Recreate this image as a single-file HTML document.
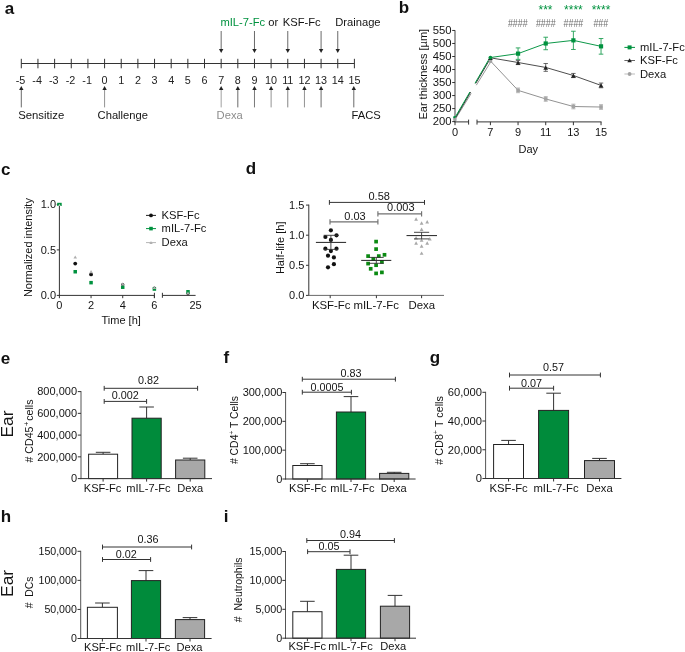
<!DOCTYPE html>
<html><head><meta charset="utf-8"><title>Figure</title>
<style>
html,body{margin:0;padding:0;background:#fff;}
body{width:685px;height:652px;overflow:hidden;font-family:'Liberation Sans', sans-serif;}
svg{display:block;font-family:"Liberation Sans",sans-serif;will-change:transform;}
</style></head>
<body>
<svg width="685" height="652" viewBox="0 0 685 652">
<rect x="0" y="0" width="685" height="652" fill="#ffffff"/>
<text x="4.8" y="13.7" font-size="17" text-anchor="start" fill="#111" font-weight="bold">a</text>
<text x="398.8" y="12.7" font-size="17" text-anchor="start" fill="#111" font-weight="bold">b</text>
<text x="0.9" y="174.5" font-size="17" text-anchor="start" fill="#111" font-weight="bold">c</text>
<text x="245.8" y="174.4" font-size="17" text-anchor="start" fill="#111" font-weight="bold">d</text>
<text x="0.8" y="363.6" font-size="17" text-anchor="start" fill="#111" font-weight="bold">e</text>
<text x="223.5" y="363.2" font-size="17" text-anchor="start" fill="#111" font-weight="bold">f</text>
<text x="429.8" y="363.4" font-size="17" text-anchor="start" fill="#111" font-weight="bold">g</text>
<text x="0.8" y="522" font-size="17" text-anchor="start" fill="#111" font-weight="bold">h</text>
<text x="223.8" y="521.8" font-size="17" text-anchor="start" fill="#111" font-weight="bold">i</text>
<line x1="21.3" y1="63.5" x2="354.40000000000003" y2="63.5" stroke="#333" stroke-width="1"/>
<line x1="21.3" y1="58.8" x2="21.3" y2="68.3" stroke="#333" stroke-width="1"/>
<text x="20.5" y="83.8" font-size="10.8" text-anchor="middle" fill="#222" font-weight="normal">-5</text>
<line x1="37.95" y1="58.8" x2="37.95" y2="68.3" stroke="#333" stroke-width="1"/>
<text x="37.15" y="83.8" font-size="10.8" text-anchor="middle" fill="#222" font-weight="normal">-4</text>
<line x1="54.61" y1="58.8" x2="54.61" y2="68.3" stroke="#333" stroke-width="1"/>
<text x="53.81" y="83.8" font-size="10.8" text-anchor="middle" fill="#222" font-weight="normal">-3</text>
<line x1="71.27" y1="58.8" x2="71.27" y2="68.3" stroke="#333" stroke-width="1"/>
<text x="70.47" y="83.8" font-size="10.8" text-anchor="middle" fill="#222" font-weight="normal">-2</text>
<line x1="87.92" y1="58.8" x2="87.92" y2="68.3" stroke="#333" stroke-width="1"/>
<text x="87.12" y="83.8" font-size="10.8" text-anchor="middle" fill="#222" font-weight="normal">-1</text>
<line x1="104.58" y1="58.8" x2="104.58" y2="68.3" stroke="#333" stroke-width="1"/>
<text x="104.58" y="83.8" font-size="10.8" text-anchor="middle" fill="#222" font-weight="normal">0</text>
<line x1="121.23" y1="58.8" x2="121.23" y2="68.3" stroke="#333" stroke-width="1"/>
<text x="121.23" y="83.8" font-size="10.8" text-anchor="middle" fill="#222" font-weight="normal">1</text>
<line x1="137.89" y1="58.8" x2="137.89" y2="68.3" stroke="#333" stroke-width="1"/>
<text x="137.89" y="83.8" font-size="10.8" text-anchor="middle" fill="#222" font-weight="normal">2</text>
<line x1="154.54" y1="58.8" x2="154.54" y2="68.3" stroke="#333" stroke-width="1"/>
<text x="154.54" y="83.8" font-size="10.8" text-anchor="middle" fill="#222" font-weight="normal">3</text>
<line x1="171.2" y1="58.8" x2="171.2" y2="68.3" stroke="#333" stroke-width="1"/>
<text x="171.2" y="83.8" font-size="10.8" text-anchor="middle" fill="#222" font-weight="normal">4</text>
<line x1="187.85" y1="58.8" x2="187.85" y2="68.3" stroke="#333" stroke-width="1"/>
<text x="187.85" y="83.8" font-size="10.8" text-anchor="middle" fill="#222" font-weight="normal">5</text>
<line x1="204.51" y1="58.8" x2="204.51" y2="68.3" stroke="#333" stroke-width="1"/>
<text x="204.51" y="83.8" font-size="10.8" text-anchor="middle" fill="#222" font-weight="normal">6</text>
<line x1="221.16" y1="58.8" x2="221.16" y2="68.3" stroke="#333" stroke-width="1"/>
<text x="221.16" y="83.8" font-size="10.8" text-anchor="middle" fill="#222" font-weight="normal">7</text>
<line x1="237.82" y1="58.8" x2="237.82" y2="68.3" stroke="#333" stroke-width="1"/>
<text x="237.82" y="83.8" font-size="10.8" text-anchor="middle" fill="#222" font-weight="normal">8</text>
<line x1="254.47" y1="58.8" x2="254.47" y2="68.3" stroke="#333" stroke-width="1"/>
<text x="254.47" y="83.8" font-size="10.8" text-anchor="middle" fill="#222" font-weight="normal">9</text>
<line x1="271.12" y1="58.8" x2="271.12" y2="68.3" stroke="#333" stroke-width="1"/>
<text x="271.12" y="83.8" font-size="10.8" text-anchor="middle" fill="#222" font-weight="normal">10</text>
<line x1="287.78" y1="58.8" x2="287.78" y2="68.3" stroke="#333" stroke-width="1"/>
<text x="287.78" y="83.8" font-size="10.8" text-anchor="middle" fill="#222" font-weight="normal">11</text>
<line x1="304.44" y1="58.8" x2="304.44" y2="68.3" stroke="#333" stroke-width="1"/>
<text x="304.44" y="83.8" font-size="10.8" text-anchor="middle" fill="#222" font-weight="normal">12</text>
<line x1="321.09" y1="58.8" x2="321.09" y2="68.3" stroke="#333" stroke-width="1"/>
<text x="321.09" y="83.8" font-size="10.8" text-anchor="middle" fill="#222" font-weight="normal">13</text>
<line x1="337.75" y1="58.8" x2="337.75" y2="68.3" stroke="#333" stroke-width="1"/>
<text x="337.75" y="83.8" font-size="10.8" text-anchor="middle" fill="#222" font-weight="normal">14</text>
<line x1="354.4" y1="58.8" x2="354.4" y2="68.3" stroke="#333" stroke-width="1"/>
<text x="354.4" y="83.8" font-size="10.8" text-anchor="middle" fill="#222" font-weight="normal">15</text>
<line x1="21.3" y1="89.4" x2="21.3" y2="107.4" stroke="#444" stroke-width="0.8"/>
<polygon points="21.3,85.9 19.1,90.0 23.5,90.0" fill="#222"/>
<line x1="104.58" y1="89.4" x2="104.58" y2="107.4" stroke="#777" stroke-width="0.8"/>
<polygon points="104.58,85.9 102.38,90.0 106.78,90.0" fill="#222"/>
<line x1="221.16" y1="89.4" x2="221.16" y2="107.4" stroke="#888" stroke-width="0.8"/>
<polygon points="221.16,85.9 218.96,90.0 223.35999999999999,90.0" fill="#222"/>
<line x1="237.82" y1="89.4" x2="237.82" y2="107.4" stroke="#444" stroke-width="0.8"/>
<polygon points="237.82,85.9 235.62,90.0 240.01999999999998,90.0" fill="#222"/>
<line x1="254.47" y1="89.4" x2="254.47" y2="107.4" stroke="#555" stroke-width="0.8"/>
<polygon points="254.47,85.9 252.27,90.0 256.67,90.0" fill="#222"/>
<line x1="271.12" y1="89.4" x2="271.12" y2="107.4" stroke="#777" stroke-width="0.8"/>
<polygon points="271.12,85.9 268.92,90.0 273.32,90.0" fill="#222"/>
<line x1="287.78" y1="89.4" x2="287.78" y2="107.4" stroke="#666" stroke-width="0.8"/>
<polygon points="287.78,85.9 285.58,90.0 289.97999999999996,90.0" fill="#222"/>
<line x1="304.44" y1="89.4" x2="304.44" y2="107.4" stroke="#777" stroke-width="0.8"/>
<polygon points="304.44,85.9 302.24,90.0 306.64,90.0" fill="#222"/>
<line x1="321.09" y1="89.4" x2="321.09" y2="107.4" stroke="#444" stroke-width="0.8"/>
<polygon points="321.09,85.9 318.89,90.0 323.28999999999996,90.0" fill="#222"/>
<line x1="353.79999999999995" y1="89.4" x2="353.79999999999995" y2="107.4" stroke="#444" stroke-width="0.8"/>
<polygon points="353.79999999999995,85.9 351.59999999999997,90.0 355.99999999999994,90.0" fill="#222"/>
<line x1="221.16" y1="31" x2="221.16" y2="49.6" stroke="#444" stroke-width="0.8"/>
<polygon points="221.16,53.1 218.96,49.0 223.35999999999999,49.0" fill="#222"/>
<line x1="254.47" y1="31" x2="254.47" y2="49.6" stroke="#444" stroke-width="0.8"/>
<polygon points="254.47,53.1 252.27,49.0 256.67,49.0" fill="#222"/>
<line x1="287.78" y1="31" x2="287.78" y2="49.6" stroke="#444" stroke-width="0.8"/>
<polygon points="287.78,53.1 285.58,49.0 289.97999999999996,49.0" fill="#222"/>
<line x1="321.09" y1="31" x2="321.09" y2="49.6" stroke="#444" stroke-width="0.8"/>
<polygon points="321.09,53.1 318.89,49.0 323.28999999999996,49.0" fill="#222"/>
<line x1="337.75" y1="31" x2="337.75" y2="49.6" stroke="#444" stroke-width="0.8"/>
<polygon points="337.75,53.1 335.55,49.0 339.95,49.0" fill="#222"/>
<text x="18.2" y="118.8" font-size="11.35" text-anchor="start" fill="#141414" font-weight="normal">Sensitize</text>
<text x="97.6" y="118.8" font-size="11.2" text-anchor="start" fill="#141414" font-weight="normal">Challenge</text>
<text x="216.6" y="118.6" font-size="11.2" text-anchor="start" fill="#8c8c8c" font-weight="normal">Dexa</text>
<text x="351.5" y="119" font-size="11.2" text-anchor="start" fill="#141414" font-weight="normal">FACS</text>
<text x="220.4" y="26" font-size="11.2" fill="#141414"><tspan fill="#00923f">mIL-7-Fc</tspan> or</text>
<text x="282.8" y="26" font-size="11.2" text-anchor="start" fill="#141414" font-weight="normal">KSF-Fc</text>
<text x="335.2" y="26" font-size="11.2" text-anchor="start" fill="#141414" font-weight="normal">Drainage</text>
<line x1="455" y1="30.2" x2="455" y2="122.3" stroke="#6e6e6e" stroke-width="1.3"/>
<line x1="452.2" y1="121.6" x2="455" y2="121.6" stroke="#333" stroke-width="1"/>
<text x="451.6" y="125.2" font-size="11.3" text-anchor="end" fill="#141414" font-weight="normal">200</text>
<line x1="452.2" y1="108.58" x2="455" y2="108.58" stroke="#333" stroke-width="1"/>
<text x="451.6" y="112.18" font-size="11.3" text-anchor="end" fill="#141414" font-weight="normal">250</text>
<line x1="452.2" y1="95.56" x2="455" y2="95.56" stroke="#333" stroke-width="1"/>
<text x="451.6" y="99.16" font-size="11.3" text-anchor="end" fill="#141414" font-weight="normal">300</text>
<line x1="452.2" y1="82.54" x2="455" y2="82.54" stroke="#333" stroke-width="1"/>
<text x="451.6" y="86.14" font-size="11.3" text-anchor="end" fill="#141414" font-weight="normal">350</text>
<line x1="452.2" y1="69.52" x2="455" y2="69.52" stroke="#333" stroke-width="1"/>
<text x="451.6" y="73.12" font-size="11.3" text-anchor="end" fill="#141414" font-weight="normal">400</text>
<line x1="452.2" y1="56.5" x2="455" y2="56.5" stroke="#333" stroke-width="1"/>
<text x="451.6" y="60.1" font-size="11.3" text-anchor="end" fill="#141414" font-weight="normal">450</text>
<line x1="452.2" y1="43.48" x2="455" y2="43.48" stroke="#333" stroke-width="1"/>
<text x="451.6" y="47.08" font-size="11.3" text-anchor="end" fill="#141414" font-weight="normal">500</text>
<line x1="452.2" y1="30.46" x2="455" y2="30.46" stroke="#333" stroke-width="1"/>
<text x="451.6" y="34.06" font-size="11.3" text-anchor="end" fill="#141414" font-weight="normal">550</text>
<text x="427.2" y="74.2" font-size="11" text-anchor="middle" fill="#141414" font-weight="normal" transform="rotate(-90 427.2 74.2)">Ear thickness [µm]</text>
<line x1="454.5" y1="121.9" x2="468.6" y2="121.9" stroke="#333" stroke-width="1"/>
<line x1="468.6" y1="119.6" x2="468.6" y2="124.6" stroke="#333" stroke-width="1"/>
<line x1="477" y1="121.9" x2="601.5" y2="121.9" stroke="#333" stroke-width="1"/>
<line x1="477" y1="119.6" x2="477" y2="124.6" stroke="#333" stroke-width="1"/>
<line x1="455" y1="121.9" x2="455" y2="125.2" stroke="#333" stroke-width="1"/>
<text x="455" y="135.6" font-size="11" text-anchor="middle" fill="#141414" font-weight="normal">0</text>
<line x1="490.4" y1="121.9" x2="490.4" y2="125.2" stroke="#333" stroke-width="1"/>
<text x="490.4" y="135.6" font-size="11" text-anchor="middle" fill="#141414" font-weight="normal">7</text>
<line x1="518.06" y1="121.9" x2="518.06" y2="125.2" stroke="#333" stroke-width="1"/>
<text x="518.06" y="135.6" font-size="11" text-anchor="middle" fill="#141414" font-weight="normal">9</text>
<line x1="545.72" y1="121.9" x2="545.72" y2="125.2" stroke="#333" stroke-width="1"/>
<text x="545.72" y="135.6" font-size="11" text-anchor="middle" fill="#141414" font-weight="normal">11</text>
<line x1="573.38" y1="121.9" x2="573.38" y2="125.2" stroke="#333" stroke-width="1"/>
<text x="573.38" y="135.6" font-size="11" text-anchor="middle" fill="#141414" font-weight="normal">13</text>
<line x1="601.04" y1="121.9" x2="601.04" y2="125.2" stroke="#333" stroke-width="1"/>
<text x="601.04" y="135.6" font-size="11" text-anchor="middle" fill="#141414" font-weight="normal">15</text>
<text x="528.3" y="153.2" font-size="11" text-anchor="middle" fill="#141414" font-weight="normal">Day</text>
<line x1="455.9" y1="118.21" x2="471.2" y2="93.45" stroke="#999" stroke-width="1.0"/>
<line x1="476.29999999999995" y1="85.2" x2="491.29999999999995" y2="60.93" stroke="#999" stroke-width="1.0"/>
<line x1="455.3" y1="118.21" x2="470.6" y2="92.1" stroke="#333" stroke-width="1.0"/>
<line x1="475.7" y1="83.4" x2="490.7" y2="57.8" stroke="#333" stroke-width="1.0"/>
<line x1="454.6" y1="118.21" x2="469.90000000000003" y2="91.99" stroke="#00923f" stroke-width="1.0"/>
<line x1="475.0" y1="83.25" x2="490.0" y2="57.54" stroke="#00923f" stroke-width="1.0"/>
<polyline fill="none" stroke="#929292" stroke-width="1.0" points="490.4,60.93 518.06,90.35 545.72,98.95 573.38,106.5 601.04,107.02"/>
<rect x="488.6" y="59.13" width="3.6" height="3.6" fill="#a3a3a3" stroke="none" stroke-width="1"/>
<line x1="518.06" y1="88.01" x2="518.06" y2="92.7" stroke="#aaa" stroke-width="0.8"/>
<line x1="516.06" y1="88.01" x2="520.06" y2="88.01" stroke="#aaa" stroke-width="0.8"/>
<line x1="516.06" y1="92.7" x2="520.06" y2="92.7" stroke="#aaa" stroke-width="0.8"/>
<rect x="516.26" y="88.55" width="3.6" height="3.6" fill="#a3a3a3" stroke="none" stroke-width="1"/>
<line x1="545.72" y1="96.6" x2="545.72" y2="101.29" stroke="#aaa" stroke-width="0.8"/>
<line x1="543.72" y1="96.6" x2="547.72" y2="96.6" stroke="#aaa" stroke-width="0.8"/>
<line x1="543.72" y1="101.29" x2="547.72" y2="101.29" stroke="#aaa" stroke-width="0.8"/>
<rect x="543.92" y="97.15" width="3.6" height="3.6" fill="#a3a3a3" stroke="none" stroke-width="1"/>
<line x1="573.38" y1="104.15" x2="573.38" y2="108.84" stroke="#aaa" stroke-width="0.8"/>
<line x1="571.38" y1="104.15" x2="575.38" y2="104.15" stroke="#aaa" stroke-width="0.8"/>
<line x1="571.38" y1="108.84" x2="575.38" y2="108.84" stroke="#aaa" stroke-width="0.8"/>
<rect x="571.58" y="104.7" width="3.6" height="3.6" fill="#a3a3a3" stroke="none" stroke-width="1"/>
<line x1="601.04" y1="104.67" x2="601.04" y2="109.36" stroke="#aaa" stroke-width="0.8"/>
<line x1="599.04" y1="104.67" x2="603.04" y2="104.67" stroke="#aaa" stroke-width="0.8"/>
<line x1="599.04" y1="109.36" x2="603.04" y2="109.36" stroke="#aaa" stroke-width="0.8"/>
<rect x="599.24" y="105.22" width="3.6" height="3.6" fill="#a3a3a3" stroke="none" stroke-width="1"/>
<polyline fill="none" stroke="#3a3a3a" stroke-width="0.9" points="490.4,57.8 518.06,62.49 545.72,67.44 573.38,75.51 601.04,85.4"/>
<polygon points="490.4,55.77 488.05,60.00 492.75,60.00" fill="#222"/>
<line x1="518.06" y1="60.41" x2="518.06" y2="64.57" stroke="#444" stroke-width="0.8"/>
<line x1="515.8599999999999" y1="60.41" x2="520.26" y2="60.41" stroke="#444" stroke-width="0.8"/>
<line x1="515.8599999999999" y1="64.57" x2="520.26" y2="64.57" stroke="#444" stroke-width="0.8"/>
<polygon points="518.06,60.46 515.71,64.69 520.41,64.69" fill="#222"/>
<line x1="545.72" y1="63.53" x2="545.72" y2="71.34" stroke="#444" stroke-width="0.8"/>
<line x1="543.52" y1="63.53" x2="547.9200000000001" y2="63.53" stroke="#444" stroke-width="0.8"/>
<line x1="543.52" y1="71.34" x2="547.9200000000001" y2="71.34" stroke="#444" stroke-width="0.8"/>
<polygon points="545.72,65.41 543.37,69.64 548.07,69.64" fill="#222"/>
<line x1="573.38" y1="73.43" x2="573.38" y2="77.59" stroke="#444" stroke-width="0.8"/>
<line x1="571.18" y1="73.43" x2="575.58" y2="73.43" stroke="#444" stroke-width="0.8"/>
<line x1="571.18" y1="77.59" x2="575.58" y2="77.59" stroke="#444" stroke-width="0.8"/>
<polygon points="573.38,73.48 571.03,77.71 575.73,77.71" fill="#222"/>
<line x1="601.04" y1="83.06" x2="601.04" y2="87.75" stroke="#444" stroke-width="0.8"/>
<line x1="598.8399999999999" y1="83.06" x2="603.24" y2="83.06" stroke="#444" stroke-width="0.8"/>
<line x1="598.8399999999999" y1="87.75" x2="603.24" y2="87.75" stroke="#444" stroke-width="0.8"/>
<polygon points="601.04,83.37 598.69,87.60 603.39,87.60" fill="#222"/>
<polyline fill="none" stroke="#00923f" stroke-width="0.95" points="490.4,57.54 518.06,53.64 545.72,43.48 573.38,40.36 601.04,46.34"/>
<circle cx="490.4" cy="57.54" r="1.9" fill="#00923f"/>
<line x1="518.06" y1="47.91" x2="518.06" y2="59.36" stroke="#2aa35c" stroke-width="0.95"/>
<line x1="515.76" y1="47.91" x2="520.3599999999999" y2="47.91" stroke="#2aa35c" stroke-width="0.95"/>
<line x1="515.76" y1="59.36" x2="520.3599999999999" y2="59.36" stroke="#2aa35c" stroke-width="0.95"/>
<rect x="515.96" y="51.54" width="4.2" height="4.2" fill="#00923f" stroke="none" stroke-width="1"/>
<line x1="545.72" y1="37.23" x2="545.72" y2="49.73" stroke="#2aa35c" stroke-width="0.95"/>
<line x1="543.4200000000001" y1="37.23" x2="548.02" y2="37.23" stroke="#2aa35c" stroke-width="0.95"/>
<line x1="543.4200000000001" y1="49.73" x2="548.02" y2="49.73" stroke="#2aa35c" stroke-width="0.95"/>
<rect x="543.62" y="41.38" width="4.2" height="4.2" fill="#00923f" stroke="none" stroke-width="1"/>
<line x1="573.38" y1="31.24" x2="573.38" y2="49.47" stroke="#2aa35c" stroke-width="0.95"/>
<line x1="571.08" y1="31.24" x2="575.68" y2="31.24" stroke="#2aa35c" stroke-width="0.95"/>
<line x1="571.08" y1="49.47" x2="575.68" y2="49.47" stroke="#2aa35c" stroke-width="0.95"/>
<rect x="571.28" y="38.26" width="4.2" height="4.2" fill="#00923f" stroke="none" stroke-width="1"/>
<line x1="601.04" y1="38.53" x2="601.04" y2="54.16" stroke="#2aa35c" stroke-width="0.95"/>
<line x1="598.74" y1="38.53" x2="603.3399999999999" y2="38.53" stroke="#2aa35c" stroke-width="0.95"/>
<line x1="598.74" y1="54.16" x2="603.3399999999999" y2="54.16" stroke="#2aa35c" stroke-width="0.95"/>
<rect x="598.94" y="44.24" width="4.2" height="4.2" fill="#00923f" stroke="none" stroke-width="1"/>
<rect x="453.2" y="117.41" width="3.4" height="3.4" fill="#a3a3a3" stroke="none" stroke-width="1"/>
<circle cx="454.3" cy="117.21" r="1.1" fill="#00923f"/>
<text x="545.5" y="13.7" font-size="12" text-anchor="middle" fill="#00923f" font-weight="normal">***</text>
<text x="573.4" y="13.7" font-size="12" text-anchor="middle" fill="#00923f" font-weight="normal">****</text>
<text x="601" y="13.7" font-size="12" text-anchor="middle" fill="#00923f" font-weight="normal">****</text>
<text transform="translate(517.8 27) scale(0.84 1)" font-size="10.6" text-anchor="middle" fill="#6e6e6e">####</text>
<text transform="translate(545.8 27) scale(0.84 1)" font-size="10.6" text-anchor="middle" fill="#6e6e6e">####</text>
<text transform="translate(573.4 27) scale(0.84 1)" font-size="10.6" text-anchor="middle" fill="#6e6e6e">####</text>
<text transform="translate(600.8 27) scale(0.84 1)" font-size="10.6" text-anchor="middle" fill="#6e6e6e">###</text>
<line x1="624.4" y1="47.4" x2="635" y2="47.4" stroke="#00923f" stroke-width="1"/>
<rect x="627.6" y="45.4" width="4" height="4" fill="#00923f" stroke="none" stroke-width="1"/>
<line x1="624.4" y1="60.5" x2="635" y2="60.5" stroke="#555" stroke-width="0.9"/>
<polygon points="629.6,58.22 627.30,62.36 631.90,62.36" fill="#222"/>
<line x1="624.4" y1="74" x2="635" y2="74" stroke="#b5b5b5" stroke-width="0.9"/>
<circle cx="629.6" cy="74" r="1.9" fill="#a3a3a3"/>
<text x="640" y="51.2" font-size="11.2" text-anchor="start" fill="#141414" font-weight="normal">mIL-7-Fc</text>
<text x="640" y="64.4" font-size="11.2" text-anchor="start" fill="#141414" font-weight="normal">KSF-Fc</text>
<text x="640" y="77.6" font-size="11.2" text-anchor="start" fill="#141414" font-weight="normal">Dexa</text>
<line x1="59.4" y1="203.9" x2="59.4" y2="295.9" stroke="#333" stroke-width="1"/>
<line x1="56.8" y1="295.4" x2="59.4" y2="295.4" stroke="#333" stroke-width="1"/>
<text x="56" y="299.3" font-size="11" text-anchor="end" fill="#141414" font-weight="normal">0.0</text>
<line x1="56.8" y1="249.9" x2="59.4" y2="249.9" stroke="#333" stroke-width="1"/>
<text x="56" y="253.8" font-size="11" text-anchor="end" fill="#141414" font-weight="normal">0.5</text>
<line x1="56.8" y1="204.4" x2="59.4" y2="204.4" stroke="#333" stroke-width="1"/>
<text x="56" y="208.3" font-size="11" text-anchor="end" fill="#141414" font-weight="normal">1.0</text>
<text x="32.2" y="247.6" font-size="11" text-anchor="middle" fill="#141414" font-weight="normal" transform="rotate(-90 32.2 247.6)">Normalized intensity</text>
<line x1="58.9" y1="295.4" x2="154.4" y2="295.4" stroke="#333" stroke-width="1"/>
<line x1="154.4" y1="292.8" x2="154.4" y2="297.8" stroke="#333" stroke-width="1"/>
<line x1="162.4" y1="295.4" x2="195.6" y2="295.4" stroke="#333" stroke-width="1"/>
<line x1="162.4" y1="292.8" x2="162.4" y2="297.8" stroke="#333" stroke-width="1"/>
<line x1="59.4" y1="295.4" x2="59.4" y2="298.2" stroke="#333" stroke-width="1"/>
<text x="59.4" y="308.8" font-size="11" text-anchor="middle" fill="#141414" font-weight="normal">0</text>
<line x1="91.06" y1="295.4" x2="91.06" y2="298.2" stroke="#333" stroke-width="1"/>
<text x="91.06" y="308.8" font-size="11" text-anchor="middle" fill="#141414" font-weight="normal">2</text>
<line x1="122.72" y1="295.4" x2="122.72" y2="298.2" stroke="#333" stroke-width="1"/>
<text x="122.72" y="308.8" font-size="11" text-anchor="middle" fill="#141414" font-weight="normal">4</text>
<line x1="154.38" y1="295.4" x2="154.38" y2="298.2" stroke="#333" stroke-width="1"/>
<text x="154.38" y="308.8" font-size="11" text-anchor="middle" fill="#141414" font-weight="normal">6</text>
<text x="195.6" y="308.8" font-size="11" text-anchor="middle" fill="#141414" font-weight="normal">25</text>
<text x="121.2" y="324" font-size="11" text-anchor="middle" fill="#141414" font-weight="normal">Time [h]</text>
<rect x="57.2" y="202.8" width="4.5" height="3.2" fill="#00923f" stroke="none" stroke-width="1"/>
<polygon points="59.5,203.71 58.20,206.05 60.80,206.05" fill="#b9c9bd"/>
<circle cx="75.23" cy="263.55" r="1.9" fill="#111"/>
<rect x="73.48" y="269.99" width="3.5" height="3.5" fill="#00923f" stroke="none" stroke-width="1"/>
<polygon points="75.23,255.45 73.48,258.60 76.98,258.60" fill="#adadad"/>
<circle cx="91.06" cy="274.47" r="1.9" fill="#111"/>
<rect x="89.31" y="280.91" width="3.5" height="3.5" fill="#00923f" stroke="none" stroke-width="1"/>
<polygon points="91.06,270.01 89.31,273.16 92.81,273.16" fill="#adadad"/>
<circle cx="122.72" cy="284.48" r="1.6" fill="#111"/>
<rect x="120.97" y="285.46" width="3.5" height="3.5" fill="#00923f" stroke="none" stroke-width="1"/>
<polygon points="122.72,282.29 120.97,285.44 124.47,285.44" fill="#adadad"/>
<circle cx="154.38" cy="288.12" r="1.6" fill="#111"/>
<rect x="152.63" y="287.28" width="3.5" height="3.5" fill="#00923f" stroke="none" stroke-width="1"/>
<polygon points="154.38,285.93 152.63,289.08 156.13,289.08" fill="#adadad"/>
<circle cx="188" cy="293.58" r="1.6" fill="#111"/>
<rect x="186.25" y="290.01" width="3.5" height="3.5" fill="#00923f" stroke="none" stroke-width="1"/>
<polygon points="188,291.39 186.25,294.54 189.75,294.54" fill="#adadad"/>
<line x1="146" y1="215.4" x2="156" y2="215.4" stroke="#222" stroke-width="1"/>
<circle cx="151" cy="215.4" r="1.9" fill="#111"/>
<line x1="146" y1="228.6" x2="156" y2="228.6" stroke="#00923f" stroke-width="1"/>
<rect x="149.2" y="226.8" width="3.6" height="3.6" fill="#00923f" stroke="none" stroke-width="1"/>
<line x1="146" y1="242.6" x2="156" y2="242.6" stroke="#b5b5b5" stroke-width="1"/>
<polygon points="151,240.92 149.30,243.98 152.70,243.98" fill="#b0b0b0"/>
<text x="161.6" y="219.2" font-size="11.2" text-anchor="start" fill="#141414" font-weight="normal">KSF-Fc</text>
<text x="161.6" y="232.4" font-size="11.2" text-anchor="start" fill="#141414" font-weight="normal">mIL-7-Fc</text>
<text x="161.6" y="245.8" font-size="11.2" text-anchor="start" fill="#141414" font-weight="normal">Dexa</text>
<line x1="308.8" y1="204.6" x2="308.8" y2="295.9" stroke="#333" stroke-width="1"/>
<line x1="306" y1="295.4" x2="308.8" y2="295.4" stroke="#333" stroke-width="1"/>
<text x="304.4" y="299.3" font-size="11" text-anchor="end" fill="#141414" font-weight="normal">0.0</text>
<line x1="306" y1="265.3" x2="308.8" y2="265.3" stroke="#333" stroke-width="1"/>
<text x="304.4" y="269.2" font-size="11" text-anchor="end" fill="#141414" font-weight="normal">0.5</text>
<line x1="306" y1="235.2" x2="308.8" y2="235.2" stroke="#333" stroke-width="1"/>
<text x="304.4" y="239.1" font-size="11" text-anchor="end" fill="#141414" font-weight="normal">1.0</text>
<line x1="306" y1="205.1" x2="308.8" y2="205.1" stroke="#333" stroke-width="1"/>
<text x="304.4" y="209.0" font-size="11" text-anchor="end" fill="#141414" font-weight="normal">1.5</text>
<text x="284" y="247.8" font-size="11" text-anchor="middle" fill="#141414" font-weight="normal" transform="rotate(-90 284 247.8)">Half-life [h]</text>
<line x1="308.3" y1="295.4" x2="444" y2="295.4" stroke="#6a6a6a" stroke-width="1"/>
<line x1="330.2" y1="295.4" x2="330.2" y2="298.2" stroke="#333" stroke-width="1"/>
<line x1="376.4" y1="295.4" x2="376.4" y2="298.2" stroke="#333" stroke-width="1"/>
<line x1="421.6" y1="295.4" x2="421.6" y2="298.2" stroke="#333" stroke-width="1"/>
<text x="331.2" y="309.4" font-size="11.4" text-anchor="middle" fill="#141414" font-weight="normal">KSF-Fc</text>
<text x="376.2" y="309.4" font-size="11.4" text-anchor="middle" fill="#141414" font-weight="normal">mIL-7-Fc</text>
<text x="421.8" y="309.4" font-size="11.4" text-anchor="middle" fill="#141414" font-weight="normal">Dexa</text>
<circle cx="330.9" cy="230.3" r="2.1" fill="#111"/>
<circle cx="336.5" cy="235.3" r="2.1" fill="#111"/>
<circle cx="325.4" cy="237.0" r="2.1" fill="#111"/>
<circle cx="330.9" cy="239.9" r="2.1" fill="#111"/>
<circle cx="325.4" cy="248.7" r="2.1" fill="#111"/>
<circle cx="336.5" cy="248.7" r="2.1" fill="#111"/>
<circle cx="330.9" cy="251.1" r="2.1" fill="#111"/>
<circle cx="328.0" cy="255.7" r="2.1" fill="#111"/>
<circle cx="333.9" cy="257.4" r="2.1" fill="#111"/>
<circle cx="333.9" cy="264.2" r="2.1" fill="#111"/>
<circle cx="328.0" cy="267.3" r="2.1" fill="#111"/>
<line x1="315.9" y1="242.4" x2="346.1" y2="242.4" stroke="#222" stroke-width="1"/>
<line x1="330.9" y1="235.3" x2="330.9" y2="249.4" stroke="#333" stroke-width="0.9"/>
<line x1="323.7" y1="235.3" x2="338.09999999999997" y2="235.3" stroke="#333" stroke-width="0.9"/>
<line x1="323.7" y1="249.4" x2="338.09999999999997" y2="249.4" stroke="#333" stroke-width="0.9"/>
<rect x="374.25" y="239.75" width="3.7" height="3.7" fill="#0b8a12" stroke="none" stroke-width="1"/>
<rect x="374.25" y="247.25" width="3.7" height="3.7" fill="#0b8a12" stroke="none" stroke-width="1"/>
<rect x="382.65" y="252.95" width="3.7" height="3.7" fill="#0b8a12" stroke="none" stroke-width="1"/>
<rect x="366.25" y="254.25" width="3.7" height="3.7" fill="#0b8a12" stroke="none" stroke-width="1"/>
<rect x="376.95" y="254.25" width="3.7" height="3.7" fill="#0b8a12" stroke="none" stroke-width="1"/>
<rect x="371.45" y="257.15" width="3.7" height="3.7" fill="#0b8a12" stroke="none" stroke-width="1"/>
<rect x="380.05" y="260.05" width="3.7" height="3.7" fill="#0b8a12" stroke="none" stroke-width="1"/>
<rect x="366.25" y="261.75" width="3.7" height="3.7" fill="#0b8a12" stroke="none" stroke-width="1"/>
<rect x="374.25" y="263.35" width="3.7" height="3.7" fill="#0b8a12" stroke="none" stroke-width="1"/>
<rect x="368.85" y="266.95" width="3.7" height="3.7" fill="#0b8a12" stroke="none" stroke-width="1"/>
<rect x="380.05" y="270.55" width="3.7" height="3.7" fill="#0b8a12" stroke="none" stroke-width="1"/>
<rect x="374.25" y="271.55" width="3.7" height="3.7" fill="#0b8a12" stroke="none" stroke-width="1"/>
<line x1="361.2" y1="260.4" x2="391.3" y2="260.4" stroke="#222" stroke-width="1"/>
<line x1="376.3" y1="257.4" x2="376.3" y2="263.3" stroke="#333" stroke-width="0.9"/>
<line x1="368.90000000000003" y1="257.4" x2="383.7" y2="257.4" stroke="#333" stroke-width="0.9"/>
<line x1="368.90000000000003" y1="263.3" x2="383.7" y2="263.3" stroke="#333" stroke-width="0.9"/>
<polygon points="416.1,217.32 414.20,220.74 418.00,220.74" fill="#a9a9a9"/>
<polygon points="421.6,221.32 419.70,224.74 423.50,224.74" fill="#a9a9a9"/>
<polygon points="427.2,220.02 425.30,223.44 429.10,223.44" fill="#a9a9a9"/>
<polygon points="421.6,227.52 419.70,230.94 423.50,230.94" fill="#a9a9a9"/>
<polygon points="416.1,236.12 414.20,239.54 418.00,239.54" fill="#a9a9a9"/>
<polygon points="429.8,237.02 427.90,240.44 431.70,240.44" fill="#a9a9a9"/>
<polygon points="421.6,238.42 419.70,241.84 423.50,241.84" fill="#a9a9a9"/>
<polygon points="416.1,241.32 414.20,244.74 418.00,244.74" fill="#a9a9a9"/>
<polygon points="427.2,241.32 425.30,244.74 429.10,244.74" fill="#a9a9a9"/>
<polygon points="421.6,244.32 419.70,247.74 423.50,247.74" fill="#a9a9a9"/>
<polygon points="421.6,251.42 419.70,254.84 423.50,254.84" fill="#a9a9a9"/>
<line x1="406.5" y1="235.6" x2="437" y2="235.6" stroke="#222" stroke-width="1"/>
<line x1="421.6" y1="232.3" x2="421.6" y2="238.9" stroke="#333" stroke-width="0.9"/>
<line x1="414.0" y1="232.3" x2="429.20000000000005" y2="232.3" stroke="#333" stroke-width="0.9"/>
<line x1="414.0" y1="238.9" x2="429.20000000000005" y2="238.9" stroke="#333" stroke-width="0.9"/>
<line x1="329.4" y1="202.4" x2="424.5" y2="202.4" stroke="#333" stroke-width="1"/>
<line x1="329.4" y1="200.0" x2="329.4" y2="204.8" stroke="#333" stroke-width="1"/>
<line x1="424.5" y1="200.0" x2="424.5" y2="204.8" stroke="#333" stroke-width="1"/>
<text x="379.2" y="199.5" font-size="11" text-anchor="middle" fill="#141414" font-weight="normal">0.58</text>
<line x1="330" y1="221.9" x2="377.9" y2="221.9" stroke="#707070" stroke-width="1.15"/>
<line x1="330" y1="219.3" x2="330" y2="224.5" stroke="#707070" stroke-width="1.15"/>
<line x1="377.9" y1="219.3" x2="377.9" y2="224.5" stroke="#707070" stroke-width="1.15"/>
<text x="355" y="219.6" font-size="11" text-anchor="middle" fill="#141414" font-weight="normal">0.03</text>
<line x1="377.9" y1="213.9" x2="421.6" y2="213.9" stroke="#707070" stroke-width="1.15"/>
<line x1="377.9" y1="211.3" x2="377.9" y2="216.5" stroke="#707070" stroke-width="1.15"/>
<line x1="421.6" y1="211.3" x2="421.6" y2="216.5" stroke="#707070" stroke-width="1.15"/>
<text x="400.8" y="211.4" font-size="11" text-anchor="middle" fill="#141414" font-weight="normal">0.003</text>
<line x1="81" y1="391.1" x2="81" y2="479.1" stroke="#555" stroke-width="1"/>
<line x1="77.8" y1="478.6" x2="81" y2="478.6" stroke="#333" stroke-width="1"/>
<text x="77" y="482.4" font-size="11" text-anchor="end" fill="#141414" font-weight="normal">0</text>
<line x1="77.8" y1="456.85" x2="81" y2="456.85" stroke="#333" stroke-width="1"/>
<text x="77" y="460.65" font-size="11" text-anchor="end" fill="#141414" font-weight="normal">200,000</text>
<line x1="77.8" y1="435.1" x2="81" y2="435.1" stroke="#333" stroke-width="1"/>
<text x="77" y="438.9" font-size="11" text-anchor="end" fill="#141414" font-weight="normal">400,000</text>
<line x1="77.8" y1="413.35" x2="81" y2="413.35" stroke="#333" stroke-width="1"/>
<text x="77" y="417.15" font-size="11" text-anchor="end" fill="#141414" font-weight="normal">600,000</text>
<line x1="77.8" y1="391.6" x2="81" y2="391.6" stroke="#333" stroke-width="1"/>
<text x="77" y="395.4" font-size="11" text-anchor="end" fill="#141414" font-weight="normal">800,000</text>
<text x="32.8" y="431" font-size="10.6" text-anchor="middle" fill="#141414" transform="rotate(-90 32.8 431)" xml:space="preserve"># CD45<tspan dy="-3.8" dx="0.6" font-size="7.5">+</tspan><tspan dy="3.8" dx="0.8">cells</tspan></text>
<line x1="103.1" y1="452.3" x2="103.1" y2="454.2" stroke="#333" stroke-width="1"/>
<line x1="95.8" y1="452.3" x2="110.39999999999999" y2="452.3" stroke="#333" stroke-width="1"/>
<rect x="88.6" y="454.2" width="29.0" height="24.4" fill="#fff" stroke="#222" stroke-width="1"/>
<line x1="103.1" y1="478.6" x2="103.1" y2="481.6" stroke="#333" stroke-width="1"/>
<line x1="146.6" y1="407" x2="146.6" y2="418.2" stroke="#333" stroke-width="1"/>
<line x1="139.29999999999998" y1="407" x2="153.9" y2="407" stroke="#333" stroke-width="1"/>
<rect x="132" y="418.2" width="29.2" height="60.4" fill="#008b3b" stroke="#222" stroke-width="1"/>
<line x1="146.6" y1="478.6" x2="146.6" y2="481.6" stroke="#333" stroke-width="1"/>
<line x1="190.2" y1="458.2" x2="190.2" y2="460" stroke="#333" stroke-width="1"/>
<line x1="182.89999999999998" y1="458.2" x2="197.5" y2="458.2" stroke="#333" stroke-width="1"/>
<rect x="175.6" y="460" width="29.2" height="18.6" fill="#a8a8a8" stroke="#222" stroke-width="1"/>
<line x1="190.2" y1="478.6" x2="190.2" y2="481.6" stroke="#333" stroke-width="1"/>
<line x1="80.5" y1="478.6" x2="212" y2="478.6" stroke="#333" stroke-width="1"/>
<line x1="104.2" y1="388.3" x2="197.6" y2="388.3" stroke="#333" stroke-width="1"/>
<line x1="104.2" y1="385.90000000000003" x2="104.2" y2="390.7" stroke="#333" stroke-width="1"/>
<line x1="197.6" y1="385.90000000000003" x2="197.6" y2="390.7" stroke="#333" stroke-width="1"/>
<text x="148.5" y="384.4" font-size="10.8" text-anchor="middle" fill="#141414" font-weight="normal">0.82</text>
<line x1="104.2" y1="401.4" x2="146.6" y2="401.4" stroke="#333" stroke-width="1"/>
<line x1="104.2" y1="399.0" x2="104.2" y2="403.79999999999995" stroke="#333" stroke-width="1"/>
<line x1="146.6" y1="399.0" x2="146.6" y2="403.79999999999995" stroke="#333" stroke-width="1"/>
<text x="125.3" y="398.6" font-size="10.8" text-anchor="middle" fill="#141414" font-weight="normal">0.002</text>
<text x="102.6" y="491.6" font-size="11.1" text-anchor="middle" fill="#141414" font-weight="normal">KSF-Fc</text>
<text x="148.4" y="491.6" font-size="11.1" text-anchor="middle" fill="#141414" font-weight="normal">mIL-7-Fc</text>
<text x="190.2" y="491.6" font-size="11.1" text-anchor="middle" fill="#141414" font-weight="normal">Dexa</text>
<text x="12.7" y="424" font-size="17.4" text-anchor="middle" fill="#141414" font-weight="normal" transform="rotate(-90 12.7 424)">Ear</text>
<line x1="285.6" y1="392.0" x2="285.6" y2="479.5" stroke="#555" stroke-width="1"/>
<line x1="282.40000000000003" y1="479.0" x2="285.6" y2="479.0" stroke="#333" stroke-width="1"/>
<text x="282.4" y="482.8" font-size="11" text-anchor="end" fill="#141414" font-weight="normal">0</text>
<line x1="282.40000000000003" y1="450.17" x2="285.6" y2="450.17" stroke="#333" stroke-width="1"/>
<text x="282.4" y="453.97" font-size="11" text-anchor="end" fill="#141414" font-weight="normal">100,000</text>
<line x1="282.40000000000003" y1="421.33" x2="285.6" y2="421.33" stroke="#333" stroke-width="1"/>
<text x="282.4" y="425.13" font-size="11" text-anchor="end" fill="#141414" font-weight="normal">200,000</text>
<line x1="282.40000000000003" y1="392.5" x2="285.6" y2="392.5" stroke="#333" stroke-width="1"/>
<text x="282.4" y="396.3" font-size="11" text-anchor="end" fill="#141414" font-weight="normal">300,000</text>
<text x="238" y="430" font-size="10.4" text-anchor="middle" fill="#141414" transform="rotate(-90 238 430)" xml:space="preserve"># CD4<tspan dy="-4.4" font-size="6.5">+</tspan><tspan dy="4.4"> T Cells</tspan></text>
<line x1="307.4" y1="463.7" x2="307.4" y2="465.5" stroke="#333" stroke-width="1"/>
<line x1="300.09999999999997" y1="463.7" x2="314.7" y2="463.7" stroke="#333" stroke-width="1"/>
<rect x="292.8" y="465.5" width="29.2" height="13.5" fill="#fff" stroke="#222" stroke-width="1"/>
<line x1="307.4" y1="479" x2="307.4" y2="482" stroke="#333" stroke-width="1"/>
<line x1="351.0" y1="396.6" x2="351.0" y2="412" stroke="#333" stroke-width="1"/>
<line x1="343.7" y1="396.6" x2="358.3" y2="396.6" stroke="#333" stroke-width="1"/>
<rect x="336.4" y="412" width="29.2" height="67" fill="#008b3b" stroke="#222" stroke-width="1"/>
<line x1="351.0" y1="479" x2="351.0" y2="482" stroke="#333" stroke-width="1"/>
<line x1="394.2" y1="472.3" x2="394.2" y2="473.4" stroke="#333" stroke-width="1"/>
<line x1="386.9" y1="472.3" x2="401.5" y2="472.3" stroke="#333" stroke-width="1"/>
<rect x="379.6" y="473.4" width="29.2" height="5.6" fill="#a8a8a8" stroke="#222" stroke-width="1"/>
<line x1="394.2" y1="479" x2="394.2" y2="482" stroke="#333" stroke-width="1"/>
<line x1="285.1" y1="479" x2="415.6" y2="479" stroke="#333" stroke-width="1"/>
<line x1="302.3" y1="379.2" x2="395.4" y2="379.2" stroke="#333" stroke-width="1"/>
<line x1="302.3" y1="376.8" x2="302.3" y2="381.59999999999997" stroke="#333" stroke-width="1"/>
<line x1="395.4" y1="376.8" x2="395.4" y2="381.59999999999997" stroke="#333" stroke-width="1"/>
<text x="351" y="376.6" font-size="10.8" text-anchor="middle" fill="#141414" font-weight="normal">0.83</text>
<line x1="302.3" y1="392.2" x2="351.4" y2="392.2" stroke="#333" stroke-width="1"/>
<line x1="302.3" y1="389.8" x2="302.3" y2="394.59999999999997" stroke="#333" stroke-width="1"/>
<line x1="351.4" y1="389.8" x2="351.4" y2="394.59999999999997" stroke="#333" stroke-width="1"/>
<text x="327" y="390.8" font-size="10.8" text-anchor="middle" fill="#141414" font-weight="normal">0.0005</text>
<text x="307.8" y="492" font-size="11.1" text-anchor="middle" fill="#141414" font-weight="normal">KSF-Fc</text>
<text x="352.4" y="492" font-size="11.1" text-anchor="middle" fill="#141414" font-weight="normal">mIL-7-Fc</text>
<text x="393.8" y="492" font-size="11.1" text-anchor="middle" fill="#141414" font-weight="normal">Dexa</text>
<line x1="485.6" y1="391.8" x2="485.6" y2="479.0" stroke="#555" stroke-width="1"/>
<line x1="482.40000000000003" y1="478.5" x2="485.6" y2="478.5" stroke="#333" stroke-width="1"/>
<text x="482.0" y="482.3" font-size="11.2" text-anchor="end" fill="#141414" font-weight="normal">0</text>
<line x1="482.40000000000003" y1="449.77" x2="485.6" y2="449.77" stroke="#333" stroke-width="1"/>
<text x="482.0" y="453.57" font-size="11.2" text-anchor="end" fill="#141414" font-weight="normal">20,000</text>
<line x1="482.40000000000003" y1="421.03" x2="485.6" y2="421.03" stroke="#333" stroke-width="1"/>
<text x="482.0" y="424.83" font-size="11.2" text-anchor="end" fill="#141414" font-weight="normal">40,000</text>
<line x1="482.40000000000003" y1="392.3" x2="485.6" y2="392.3" stroke="#333" stroke-width="1"/>
<text x="482.0" y="396.1" font-size="11.2" text-anchor="end" fill="#141414" font-weight="normal">60,000</text>
<text x="442.6" y="430.4" font-size="10.8" text-anchor="middle" fill="#141414" transform="rotate(-90 442.6 430.4)" xml:space="preserve"># CD8<tspan dy="-4.4" font-size="6.5">+</tspan><tspan dy="4.4" dx="0.4"> T cells</tspan></text>
<line x1="508.55" y1="440.4" x2="508.55" y2="444.5" stroke="#333" stroke-width="1"/>
<line x1="501.25" y1="440.4" x2="515.85" y2="440.4" stroke="#333" stroke-width="1"/>
<rect x="493.6" y="444.5" width="29.9" height="34.0" fill="#fff" stroke="#222" stroke-width="1"/>
<line x1="508.55" y1="478.5" x2="508.55" y2="481.5" stroke="#333" stroke-width="1"/>
<line x1="553.6" y1="393.2" x2="553.6" y2="410.4" stroke="#333" stroke-width="1"/>
<line x1="546.3000000000001" y1="393.2" x2="560.9" y2="393.2" stroke="#333" stroke-width="1"/>
<rect x="538.6" y="410.4" width="30.0" height="68.1" fill="#008b3b" stroke="#222" stroke-width="1"/>
<line x1="553.6" y1="478.5" x2="553.6" y2="481.5" stroke="#333" stroke-width="1"/>
<line x1="599.5" y1="458.4" x2="599.5" y2="460.6" stroke="#333" stroke-width="1"/>
<line x1="592.2" y1="458.4" x2="606.8" y2="458.4" stroke="#333" stroke-width="1"/>
<rect x="584.5" y="460.6" width="30.0" height="17.9" fill="#a8a8a8" stroke="#222" stroke-width="1"/>
<line x1="599.5" y1="478.5" x2="599.5" y2="481.5" stroke="#333" stroke-width="1"/>
<line x1="485.1" y1="478.5" x2="621.4" y2="478.5" stroke="#333" stroke-width="1"/>
<line x1="509.5" y1="375" x2="600.4" y2="375" stroke="#333" stroke-width="1"/>
<line x1="509.5" y1="372.6" x2="509.5" y2="377.4" stroke="#333" stroke-width="1"/>
<line x1="600.4" y1="372.6" x2="600.4" y2="377.4" stroke="#333" stroke-width="1"/>
<text x="553.5" y="371" font-size="10.8" text-anchor="middle" fill="#141414" font-weight="normal">0.57</text>
<line x1="509.5" y1="388.2" x2="553.6" y2="388.2" stroke="#333" stroke-width="1"/>
<line x1="509.5" y1="385.8" x2="509.5" y2="390.59999999999997" stroke="#333" stroke-width="1"/>
<line x1="553.6" y1="385.8" x2="553.6" y2="390.59999999999997" stroke="#333" stroke-width="1"/>
<text x="531.6" y="386.5" font-size="10.8" text-anchor="middle" fill="#141414" font-weight="normal">0.07</text>
<text x="508.6" y="491.6" font-size="11.3" text-anchor="middle" fill="#141414" font-weight="normal">KSF-Fc</text>
<text x="556" y="491.6" font-size="11.3" text-anchor="middle" fill="#141414" font-weight="normal">mIL-7-Fc</text>
<text x="599.5" y="491.6" font-size="11.3" text-anchor="middle" fill="#141414" font-weight="normal">Dexa</text>
<line x1="80.7" y1="550.8" x2="80.7" y2="639.0" stroke="#555" stroke-width="1"/>
<line x1="77.5" y1="638.5" x2="80.7" y2="638.5" stroke="#333" stroke-width="1"/>
<text x="76.8" y="642.3" font-size="10.6" text-anchor="end" fill="#141414" font-weight="normal">0</text>
<line x1="77.5" y1="609.43" x2="80.7" y2="609.43" stroke="#333" stroke-width="1"/>
<text x="76.8" y="613.23" font-size="10.6" text-anchor="end" fill="#141414" font-weight="normal">50,000</text>
<line x1="77.5" y1="580.37" x2="80.7" y2="580.37" stroke="#333" stroke-width="1"/>
<text x="76.8" y="584.17" font-size="10.6" text-anchor="end" fill="#141414" font-weight="normal">100,000</text>
<line x1="77.5" y1="551.3" x2="80.7" y2="551.3" stroke="#333" stroke-width="1"/>
<text x="76.8" y="555.1" font-size="10.6" text-anchor="end" fill="#141414" font-weight="normal">150,000</text>
<text x="32.6" y="592.4" font-size="10.3" text-anchor="middle" fill="#141414" transform="rotate(-90 32.6 592.4)" xml:space="preserve">#  DCs</text>
<line x1="102.4" y1="603" x2="102.4" y2="607.3" stroke="#333" stroke-width="1"/>
<line x1="95.10000000000001" y1="603" x2="109.7" y2="603" stroke="#333" stroke-width="1"/>
<rect x="87.4" y="607.3" width="30.0" height="31.2" fill="#fff" stroke="#222" stroke-width="1"/>
<line x1="102.4" y1="638.5" x2="102.4" y2="641.5" stroke="#333" stroke-width="1"/>
<line x1="146.0" y1="570.6" x2="146.0" y2="580.6" stroke="#333" stroke-width="1"/>
<line x1="138.7" y1="570.6" x2="153.3" y2="570.6" stroke="#333" stroke-width="1"/>
<rect x="131.4" y="580.6" width="29.2" height="57.9" fill="#008b3b" stroke="#222" stroke-width="1"/>
<line x1="146.0" y1="638.5" x2="146.0" y2="641.5" stroke="#333" stroke-width="1"/>
<line x1="190.0" y1="617.6" x2="190.0" y2="619.6" stroke="#333" stroke-width="1"/>
<line x1="182.7" y1="617.6" x2="197.3" y2="617.6" stroke="#333" stroke-width="1"/>
<rect x="175.4" y="619.6" width="29.2" height="18.9" fill="#a8a8a8" stroke="#222" stroke-width="1"/>
<line x1="190.0" y1="638.5" x2="190.0" y2="641.5" stroke="#333" stroke-width="1"/>
<line x1="80.2" y1="638.5" x2="211.6" y2="638.5" stroke="#333" stroke-width="1"/>
<line x1="102.5" y1="547" x2="191.6" y2="547" stroke="#333" stroke-width="1"/>
<line x1="102.5" y1="544.6" x2="102.5" y2="549.4" stroke="#333" stroke-width="1"/>
<line x1="191.6" y1="544.6" x2="191.6" y2="549.4" stroke="#333" stroke-width="1"/>
<text x="148" y="543.4" font-size="10.8" text-anchor="middle" fill="#141414" font-weight="normal">0.36</text>
<line x1="102.5" y1="559.5" x2="150.6" y2="559.5" stroke="#333" stroke-width="1"/>
<line x1="102.5" y1="557.1" x2="102.5" y2="561.9" stroke="#333" stroke-width="1"/>
<line x1="150.6" y1="557.1" x2="150.6" y2="561.9" stroke="#333" stroke-width="1"/>
<text x="126.3" y="557.6" font-size="10.8" text-anchor="middle" fill="#141414" font-weight="normal">0.02</text>
<text x="102.8" y="651.4" font-size="11.1" text-anchor="middle" fill="#141414" font-weight="normal">KSF-Fc</text>
<text x="148.1" y="651.4" font-size="11.1" text-anchor="middle" fill="#141414" font-weight="normal">mIL-7-Fc</text>
<text x="189.5" y="651.4" font-size="11.1" text-anchor="middle" fill="#141414" font-weight="normal">Dexa</text>
<text x="12.7" y="583.4" font-size="17.4" text-anchor="middle" fill="#141414" font-weight="normal" transform="rotate(-90 12.7 583.4)">Ear</text>
<line x1="285.5" y1="551.0" x2="285.5" y2="638.7" stroke="#555" stroke-width="1"/>
<line x1="282.3" y1="638.2" x2="285.5" y2="638.2" stroke="#333" stroke-width="1"/>
<text x="282.3" y="642.0" font-size="10.75" text-anchor="end" fill="#141414" font-weight="normal">0</text>
<line x1="282.3" y1="609.3" x2="285.5" y2="609.3" stroke="#333" stroke-width="1"/>
<text x="282.3" y="613.1" font-size="10.75" text-anchor="end" fill="#141414" font-weight="normal">5,000</text>
<line x1="282.3" y1="580.4" x2="285.5" y2="580.4" stroke="#333" stroke-width="1"/>
<text x="282.3" y="584.2" font-size="10.75" text-anchor="end" fill="#141414" font-weight="normal">10,000</text>
<line x1="282.3" y1="551.5" x2="285.5" y2="551.5" stroke="#333" stroke-width="1"/>
<text x="282.3" y="555.3" font-size="10.75" text-anchor="end" fill="#141414" font-weight="normal">15,000</text>
<text x="241.8" y="589.8" font-size="10.5" text-anchor="middle" fill="#141414" transform="rotate(-90 241.8 589.8)" xml:space="preserve">#  Neutrophils</text>
<line x1="307.4" y1="601.3" x2="307.4" y2="611.7" stroke="#333" stroke-width="1"/>
<line x1="300.09999999999997" y1="601.3" x2="314.7" y2="601.3" stroke="#333" stroke-width="1"/>
<rect x="292.8" y="611.7" width="29.2" height="26.5" fill="#fff" stroke="#222" stroke-width="1"/>
<line x1="307.4" y1="638.2" x2="307.4" y2="641.2" stroke="#333" stroke-width="1"/>
<line x1="351.0" y1="555.2" x2="351.0" y2="569.4" stroke="#333" stroke-width="1"/>
<line x1="343.7" y1="555.2" x2="358.3" y2="555.2" stroke="#333" stroke-width="1"/>
<rect x="336.4" y="569.4" width="29.2" height="68.8" fill="#008b3b" stroke="#222" stroke-width="1"/>
<line x1="351.0" y1="638.2" x2="351.0" y2="641.2" stroke="#333" stroke-width="1"/>
<line x1="395.0" y1="595.4" x2="395.0" y2="606.2" stroke="#333" stroke-width="1"/>
<line x1="387.7" y1="595.4" x2="402.3" y2="595.4" stroke="#333" stroke-width="1"/>
<rect x="380.4" y="606.2" width="29.2" height="32.0" fill="#a8a8a8" stroke="#222" stroke-width="1"/>
<line x1="395.0" y1="638.2" x2="395.0" y2="641.2" stroke="#333" stroke-width="1"/>
<line x1="285.0" y1="638.2" x2="416" y2="638.2" stroke="#333" stroke-width="1"/>
<line x1="306.8" y1="540.5" x2="394.4" y2="540.5" stroke="#333" stroke-width="1"/>
<line x1="306.8" y1="538.1" x2="306.8" y2="542.9" stroke="#333" stroke-width="1"/>
<line x1="394.4" y1="538.1" x2="394.4" y2="542.9" stroke="#333" stroke-width="1"/>
<text x="350.5" y="537.6" font-size="10.8" text-anchor="middle" fill="#141414" font-weight="normal">0.94</text>
<line x1="307.6" y1="551.7" x2="350" y2="551.7" stroke="#333" stroke-width="1"/>
<line x1="307.6" y1="549.3000000000001" x2="307.6" y2="554.1" stroke="#333" stroke-width="1"/>
<line x1="350" y1="549.3000000000001" x2="350" y2="554.1" stroke="#333" stroke-width="1"/>
<text x="329" y="550.3" font-size="10.8" text-anchor="middle" fill="#141414" font-weight="normal">0.05</text>
<text x="307.2" y="650.4" font-size="11.1" text-anchor="middle" fill="#141414" font-weight="normal">KSF-Fc</text>
<text x="350.5" y="650.4" font-size="11.1" text-anchor="middle" fill="#141414" font-weight="normal">mIL-7-Fc</text>
<text x="393.3" y="650.4" font-size="11.1" text-anchor="middle" fill="#141414" font-weight="normal">Dexa</text>
</svg>
</body></html>
